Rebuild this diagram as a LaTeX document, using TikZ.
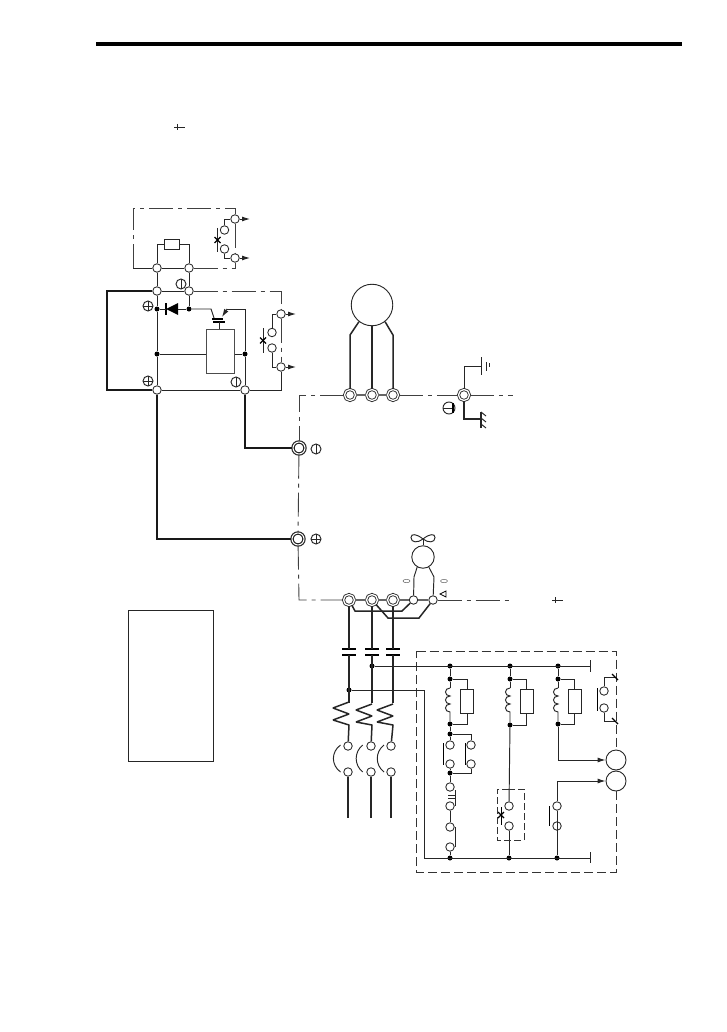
\documentclass[tikz,border=0pt]{standalone}
\usepackage{tikz}
\usetikzlibrary{arrows.meta}
\tikzset{
  wire/.style={line width=.95pt,black!85},
  heavy/.style={line width=1.5pt,black!85},
  bus/.style={line width=2pt,black!90},
  chain/.style={line width=.9pt,black!75,dash pattern=on 24pt off 5pt on 4pt off 5pt},
  gapped/.style={line width=.9pt,black!80,dash pattern=on 9pt off 4pt},
  term/.style={circle,draw=black!85,line width=.85pt,fill=white,inner sep=0pt,minimum size=8.5pt},
  ring/.style={circle,draw=black!85,line width=.85pt,double=white,double distance=1.3pt,fill=white,inner sep=0pt,minimum size=11pt},
  bigring/.style={ring,line width=1.2pt,double distance=1pt,minimum size=12pt},
  junc/.style={circle,fill=black,inner sep=0pt,minimum size=5pt},
  box/.style={rectangle,draw=black!85,line width=.95pt,fill=white,inner sep=0pt},
  motor/.style={circle,draw=black!85,line width=.9pt,fill=white,inner sep=0pt}
}
\begin{document}
\begin{tikzpicture}[x=1pt,y=-1pt,>={Latex[length=8pt,width=5pt]}]
  \useasboundingbox (0,0) rectangle (726,1032);
  \fill[white] (0,0) rectangle (726,1032);

  % header rule and note frame
  \coordinate (ruleL) at (96,44);
  \coordinate (ruleR) at (682,44);
  \draw[line width=4pt] (ruleL) -- (ruleR);
  \node[box,minimum width=85pt,minimum height=151pt] (note) at (170.7,685.5) {};
  \foreach \x/\y in {174/127,552/600} {
    \draw[wire] (\x,\y) -- ++(11,0);
    \draw[wire] (\x+3.5,\y-3) -- ++(0,6);
  }

  % motors
  \node[motor,minimum size=41.5pt] (main) at (372,305) {};
  \node[motor,minimum size=22.5pt] (fan) at (423,557) {};
  \node[motor,minimum size=20pt] (mA) at (616,760) {};
  \node[motor,minimum size=20pt] (mB) at (616,781) {};

  % terminals
  \foreach \name/\x/\y in {t1/157/268,t2/189/268,t3/235/219,t4/235/258,
    p1/157/291,p2/189/291,p3/157/390,p4/245/390,q1/281/314,q2/281/367,
    f1/413.5/600,f2/433/600}
    \node[term] (\name) at (\x,\y) {};
  \foreach \name/\x/\y in {c1/224.5/230,c2/224.5/249,c3/272/332.5,c4/272/348,
    ov1/348/746,ov2/348/772,ov3/371/746,ov4/371/772,ov5/391/746,ov6/391/772,
    k1/450/745,k2/450/764,k3/471/745,k4/471/764,k5/450/787,k6/450/806,k7/450/827,k8/450/847,
    s1/509/806,s2/509/826,s3/557/806,s4/557/826,s5/604/691,s6/604/708}
    \node[term] (\name) at (\x,\y) {};
  \foreach \name/\x/\y in {u/350/395,v/372/395,w/393/395,e/464/395,
    r/349/600,s/372/600,l/393/600}
    \node[ring] (\name) at (\x,\y) {};
  \node[bigring] (N) at (299,448) {};
  \node[bigring] (P) at (298,539) {};

  % junctions
  \foreach \name/\x/\y in {d1/157/309,d2/189/309,d3/157/354,d4/245/354,
    j1/372/666,j2/349/690,
    a1/450/666,a2/450/679,a3/450/724,a4/450/734,a5/450/773,a6/450/858,
    b1/510/666,b2/510/679,b3/510/725,b4/509/858,
    g1/558/666,g2/558/679,g3/558/724,g4/557/858}
    \node[junc] (\name) at (\x,\y) {};

  % resistors
  \node[box,minimum width=15pt,minimum height=10pt] (rb) at (172,244) {};
  \foreach \name/\x in {ra/467,rc/526.5,rd/574.5}
    \node[box,minimum width=13pt,minimum height=24pt] (\name) at (\x,701) {};
  \node[box,draw=black!70,minimum width=27.5pt,minimum height=44pt] (drive) at (220.5,351) {};

  % charge circuit
  \draw[wire] (t1) |- (rb);
  \draw[wire] (t2) |- (rb);
  \foreach \from/\to in {t1/t2,t1/p1,t2/p2,p1/p2,p1/d1,d1/d3,d3/p3,p2/d2}
    \draw[wire] (\from) -- (\to);
  \draw[wire] (p3) -- (p4);
  \draw[wire] (p4) -| (q2);
  \draw[wire] (d3) -- (drive.west |- d3);
  \draw[wire] (drive.east |- d4) -- (d4);
  \draw[wire] (d4) -- (p4);
  \draw[wire] (c1) |- (t3);
  \draw[wire] (c2) |- (t4);
  \draw[wire] (c3) |- (q1);
  \draw[wire] (c4) |- (q2);
  \foreach \x/\a/\b in {217.5/228/252,263/328/353} {
    \draw[wire] (\x,\a) -- (\x,\b);
    \draw[line width=1.2pt] (\x-3,{(\a+\b)/2-3}) -- (\x+3,{(\a+\b)/2+3});
    \draw[line width=1.2pt] (\x-3,{(\a+\b)/2+3}) -- (\x+3,{(\a+\b)/2-3});
  }
  \coordinate (bl) at (133,268);
  \coordinate (tl) at (133,208);
  \coordinate (tr) at (235,208);
  \draw[wire] (t1) -- (bl);
  \draw[chain] (bl) -- (tl) -- (tr) -- (t3);
  \draw[chain] (t3) -- (t4);
  \draw[chain] (t2) -| (t4);
  \draw[chain] (p2) -| (q1);
  \draw[chain] (q1) -- (q2);
  \coordinate (o1) at (296,314);
  \coordinate (o2) at (296,367);
  \coordinate (o3) at (250,219);
  \coordinate (o4) at (250,258);
  \foreach \from/\to in {q1/o1,q2/o2,t3/o3,t4/o4}
    \draw[wire,->] (\from) -- (\to);

  % diode and transistor
  \coordinate (dk) at (166,309);
  \draw[line width=1.2pt] (dk) ++(0,-6) -- ++(0,12);
  \fill[black] (dk) -- (178,303) -- (178,315) -- cycle;
  \draw[wire] (d1) -- (dk) (178,309) -- (d2);
  \coordinate (ce) at (211,309);
  \coordinate (em) at (227,309);
  \coordinate (eg) at (245,309);
  \draw[wire] (d2) -- (ce) -- (214,318);
  \draw[wire,<-] (222,317) -- (em);
  \draw[wire] (em) -- (eg) -- (d4);
  \draw[line width=1.2pt] (212,319) -- (223,319) (213,322) -- (225,322);
  \draw[wire] (219,322) -- (219,322 |- drive.north);

  % DC link
  \coordinate (lk1) at (107,291);
  \coordinate (lk2) at (107,390);
  \draw[bus,line join=miter] (p1) -- (lk1) -- (lk2) -- (p3);
  \draw[bus] (p3) |- (P);
  \draw[bus] (p4) |- (N);

  % terminal strip
  \coordinate (bt) at (299,395);
  \coordinate (bb) at (299,600);
  \coordinate (eEnd) at (513,395);
  \coordinate (fEnd) at (513,600);
  \draw[chain] (u) -- (bt) -- (N);
  \draw[chain] (N) -- (P);
  \draw[chain] (P) -- (bb) -- (r);
  \draw[chain] (w) -- (e);
  \draw[chain] (e) -- (eEnd);
  \draw[chain] (f2) -- (fEnd);
  \foreach \from/\to in {u/v,v/w,r/s,s/l,l/f1,f1/f2}
    \draw[heavy,black!60] (\from) -- (\to);

  % main motor leads
  \draw[heavy] (u) -- (350,335) -- (main.-128);
  \draw[heavy] (v) -- (main);
  \draw[heavy] (w) -- (393,335) -- (main.-52);

  % earth
  \coordinate (eu) at (481,366);
  \coordinate (ed) at (481,419);
  \draw[wire] (e) |- (eu);
  \draw[heavy] (e) |- (ed);
  \draw[wire] (481,357) -- (481,375) (486,362) -- (486,371) (489.5,363) -- (489.5,367);
  \draw[heavy] (481,412) -- (481,428);
  \foreach \y in {412,418,424}
    \draw[wire] (481,\y) -- ++(5,4);

  % polarity marks
  \foreach \x/\y in {148/306,148/381,316/539} {
    \draw[wire] (\x,\y) circle (5);
    \draw[wire] (\x-5,\y) -- (\x+5,\y) (\x,\y-5) -- (\x,\y+5);
  }
  \foreach \x/\y in {181/284,236/382,316/449} {
    \draw[wire] (\x,\y) circle (5);
    \draw[wire] (\x,\y-5) -- (\x,\y+5);
  }
  \draw[wire] (449,408) circle (6);
  \draw[wire] (443,408) -- (453,408);
  \draw[line width=1.2pt] (453,403) -- (453,413);

  % fan
  \coordinate (hub) at (423,539);
  \draw[wire] (hub) .. controls (417,534) and (411,533) .. (411,537.5) .. controls (411,543) and (418,543) .. (hub);
  \draw[wire] (hub) .. controls (429,534) and (435,533) .. (435,537.5) .. controls (435,543) and (428,543) .. (hub);
  \draw[wire] (hub) -- (fan);
  \draw[wire] (f1) -- (414,577) -- (fan.-120);
  \draw[wire] (f2) -- (434,577) -- (fan.-60);
  \foreach \x in {406.5,444}
    \draw[line width=.5pt,black!60] (\x,581) ellipse (3.5 and 1.7);
  \draw[line width=.7pt] (446,591) -- (440,594) -- (446,597) -- cycle;
  \draw[heavy] (r) -- (355,611) -- (402,611) -- (f1);
  \draw[heavy] (s) -- (388,618) -- (419,618) -- (f2);

  % contactor and overload
  \foreach \x/\bar in {349/r,372/s,393/l} {
    \draw[line width=1.3pt] (\x-7,649) -- (\x+7,649) (\x-7,655) -- (\x+7,655);
    \draw[heavy] (\bar) -- (\x,649) (\x,655) -- (\x,703);
  }
  \foreach \x/\y/\z/\top in {349/333/ov1/702,372/356/ov3/704,393/377/ov5/704}
    \draw[heavy,line join=bevel] (\x,\top) -- (\y,\top+6) -- (\x,\top+12) -- (\y,\top+18) -- (\x,725) -- (\z);
  \foreach \from/\to in {ov2/348,ov4/371,ov6/391}
    \draw[heavy] (\from) -- (\to,818);
  \foreach \x/\lo in {340.5/331,362.7/354,384/375}
    \draw[wire] (\x,745) .. controls (\lo,752) and (\lo,765) .. (\x,772);

  % control box
  \coordinate (fa) at (416.5,651);
  \coordinate (fb) at (616,651);
  \coordinate (fc) at (616,872);
  \coordinate (fd) at (416.5,872);
  \draw[gapped] (fa) -- (fb) -- (mA);
  \draw[gapped] (mB) -- (fc) -- (fd) -- (fa);

  % control rails
  \coordinate (railA) at (590,666);
  \coordinate (railB) at (590,858);
  \coordinate (railC) at (424,690);
  \coordinate (railD) at (424,858);
  \draw[wire] (j1) -- (railA);
  \draw[wire] (j2) -- (railC) -- (railD) -- (railB);
  \draw[wire] (590,660) -- (590,672) (590,852) -- (590,863);

  % coils
  \foreach \x/\res/\up/\dn in {450/ra/a2/a3,510/rc/b2/b3,558/rd/g2/g3} {
    \draw[wire] (\up) -- (\x,688);
    \draw[wire] (\x,688) .. controls (\x-6,688) and (\x-6,696) .. (\x,696)
      .. controls (\x-6,696) and (\x-6,704) .. (\x,704)
      .. controls (\x-6,704) and (\x-6,712) .. (\x,712) -- (\dn);
    \draw[wire] (\up) -| (\res);
    \draw[wire] (\dn) -| (\res);
  }
  \foreach \from/\to in {a1/a2,b1/b2,g1/g2,a3/a4,a4/k1,k2/a5,a5/k5,k6/k7,k8/a6,b3/s1,s2/b4,s3/g4,s4/g4}
    \draw[wire] (\from) -- (\to);
  \draw[wire] (a4) -| (k3);
  \draw[wire] (a5) -| (k4);

  % contact bars
  \foreach \x/\a/\b in {443/743/765,465/743/765,597/688/711,549/806/826}
    \draw[line width=.85pt] (\x,\a) -- (\x,\b);
  \draw[wire] (455,790) -- (455,806) (455,827) -- (455,847);
  \draw[wire] (448,795) -- (455,795) (448,798) -- (455,798);
  \draw[line width=.85pt] (501,807) -- (501,825);
  \draw[line width=1.2pt] (498,812) -- (504,818) (498,818) -- (504,812);
  \draw[gapped,dash pattern=on 7pt off 3pt] (509,789) -| (497,840) -| (524,789) -- cycle;

  % motor feeds
  \draw[wire,->] (g3) |- (mA);
  \draw[wire,->] (s3) |- (mB);
  \coordinate (xa) at (615,677);
  \coordinate (xb) at (615,721);
  \draw[wire] (s5) |- (xa);
  \draw[wire] (s6) |- (xb);
  \draw[line width=1.1pt] (612,674) -- (618,680) (612,718) -- (618,724);
\end{tikzpicture}
\end{document}
